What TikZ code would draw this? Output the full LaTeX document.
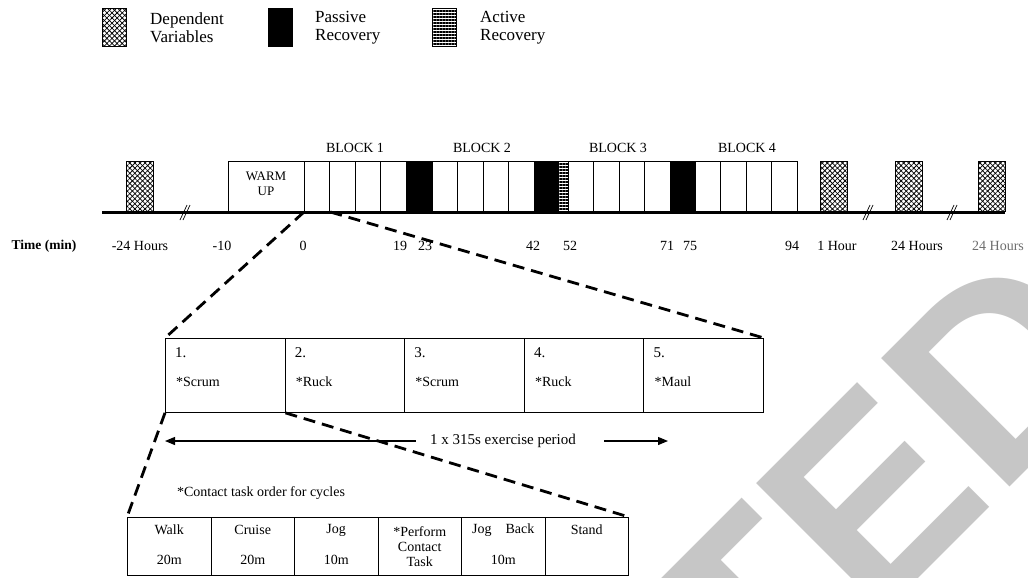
\documentclass[tikz,border=0pt]{standalone}
\usepackage{fontspec}
\setmainfont{Liberation Serif}
\newfontfamily\wmfont{Liberation Sans}
\usetikzlibrary{patterns,patterns.meta,arrows.meta,calc}
\definecolor{wmgray}{RGB}{160,160,160}
\definecolor{fadetext}{RGB}{110,110,110}
\tikzset{
  box/.style={draw, line width=0.9pt, inner sep=0pt, minimum height=50pt, anchor=south west},
  wcell/.style={box, minimum width=25.4pt},
  hatch/.style={pattern={Lines[angle=45,distance=3.6pt,line width=0.75pt]},
                postaction={pattern={Lines[angle=-45,distance=3.6pt,line width=0.75pt]}}},
  dvbox/.style={box, minimum width=27pt, hatch},
  pasbox/.style={box, fill=black},
  actbox/.style={box, pattern={Lines[angle=0,distance=3pt,line width=1.1pt]}},
  legbox/.style={draw, line width=0.9pt, inner sep=0pt, minimum width=24pt, minimum height=38pt, anchor=north west},
  legtext/.style={anchor=west, align=left, inner sep=0pt, font=\fontsize{17}{18}\selectfont},
  tl/.style={inner sep=0pt, font=\fontsize{14}{16}\selectfont},
  blk/.style={inner sep=0pt, font=\fontsize{14}{16}\selectfont},
  mcell/.style={draw, line width=0.9pt, inner sep=0pt, minimum width=119.6pt, minimum height=74pt, anchor=north west},
  bcell/.style={draw, line width=0.9pt, inner sep=0pt, minimum width=83.5pt, minimum height=58pt, anchor=north west},
  txt/.style={inner sep=0pt, font=\fontsize{14}{15}\selectfont},
  num/.style={inner sep=0pt, anchor=west, font=\fontsize{15}{16}\selectfont},
  zoomline/.style={line width=2.8pt, dash pattern=on 12pt off 7pt},
  brk/.style={line width=0.7pt},
  arr/.style={line width=1.2pt, -{Triangle[length=10pt,width=8pt]}},
  wm/.style={inner sep=0pt, anchor=base west, rotate=45, text=wmgray, text opacity=0.6,
             font=\wmfont\bfseries\fontsize{264}{264}\selectfont}
}
\begin{document}
\begin{tikzpicture}[x=1pt,y=-1pt]
\useasboundingbox (0,0) rectangle (1028,578);
% legend
\node[legbox, hatch] (lg1) at (102,8) {};
\node[legtext] (lt1) at (150,28) {Dependent\\Variables};
\node[legbox, fill=black] (lg2) at (268,8) {};
\node[legtext] (lt2) at (315,28) {Passive\\Recovery};
\node[legbox, pattern={Lines[angle=0,distance=3pt,line width=1.1pt]}] (lg3) at (432,8) {};
\node[legtext] (lt3) at (480,28) {Active\\Recovery};

% timeline boxes
\node[dvbox] (dv0) at (126,212) {};
\node[box, minimum width=76pt] (warm) at (228,212) {};
\node[blk, align=center, font=\fontsize{13}{15}\selectfont] (warmtxt) at (266,184) {WARM\\UP};
\foreach \b/\x in {1/304,2/432,3/568,4/695}
  \foreach \c in {1,...,4}
    \node[wcell] (b\b c\c) at ({\x+25.4*(\c-1)},212) {};
\node[pasbox, minimum width=26.4pt] (p1) at (405.6,212) {};
\node[pasbox, minimum width=24.4pt] (p2) at (533.6,212) {};
\node[actbox, minimum width=10pt] (a1) at (558,212) {};
\node[pasbox, minimum width=25.4pt] (p3) at (669.6,212) {};
\node[dvbox] (dv1) at (820,212) {};
\node[dvbox] (dv2) at (895,212) {};
\node[dvbox] (dv3) at (978,212) {};

% block labels
\node[blk] (bl1) at (355,148) {BLOCK 1};
\node[blk] (bl2) at (482,148) {BLOCK 2};
\node[blk] (bl3) at (618,148) {BLOCK 3};
\node[blk] (bl4) at (747,148) {BLOCK 4};

% axis
\coordinate (axL) at (102,212);
\coordinate (axR) at (1005,212);
\draw[line width=3pt] (axL) -- (axR);
\foreach \i/\x in {1/185,2/868,3/952} {
  \coordinate (br\i) at (\x,212);
  \draw[brk] ($(br\i)+(-5,8)$) -- ++(7,-15);
  \draw[brk] ($(br\i)+(-2,8)$) -- ++(7,-15);
}

% time labels
\node[tl, font=\bfseries\fontsize{13.5}{16}\selectfont] (tmin) at (44,246) {Time (min)};
\foreach \x/\t [count=\i] in {140/-24 Hours,222/-10,303/0,400/19,425/23,533/42,570/52,667/71,690/75,792/94,837/1 Hour,917/24 Hours}
  \node[tl] (t\i) at (\x,246) {\t};
\node[tl, text=fadetext] (t13) at (998,246) {24 Hours};

% middle table
\foreach \i/\n/\t in {1/1./*Scrum,2/2./*Ruck,3/3./*Scrum,4/4./*Ruck,5/5./*Maul} {
  \node[mcell] (m\i) at ({165+119.6*(\i-1)},338) {};
  \node[num] (mn\i) at ($(m\i.north west)+(10,15)$) {\n};
  \node[txt, anchor=west] (mt\i) at ($(m\i.north west)+(11,44)$) {\t};
}

% exercise period arrow
\node[txt, font=\fontsize{15}{16}\selectfont] (per) at (503,441) {1 x 315s exercise period};
\coordinate (arrL) at (165,441);
\coordinate (arrR) at (668,441);
\draw[arr] ($(per.west)+(-14,0)$) -- (arrL);
\draw[arr] ($(per.east)+(28,0)$) -- (arrR);
\node[txt] (note) at (261,493) {*Contact task order for cycles};

% bottom table
\foreach \i in {1,...,6}
  \node[bcell] (c\i) at ({127+83.5*(\i-1)},517) {};
\node[txt] (c1a) at ($(c1.north)+(0,13)$) {Walk};
\node[txt] (c1b) at ($(c1.north)+(0,43)$) {20m};
\node[txt] (c2a) at ($(c2.north)+(0,13)$) {Cruise};
\node[txt] (c2b) at ($(c2.north)+(0,43)$) {20m};
\node[txt] (c3a) at ($(c3.north)+(0,13)$) {Jog};
\node[txt] (c3b) at ($(c3.north)+(0,43)$) {10m};
\node[txt, align=center] (c4a) at ($(c4.north)+(0,30)$) {*Perform\\Contact\\Task};
\node[txt] (c5a) at ($(c5.north)+(0,13)$) {Jog\hspace{1em}Back};
\node[txt] (c5b) at ($(c5.north)+(0,43)$) {10m};
\node[txt] (c6a) at ($(c6.north)+(0,13)$) {Stand};

% zoom lines
\draw[zoomline] (b1c1.south west) -- (m1.north west);
\draw[zoomline] (b1c1.south east) -- (m5.north east);
\draw[zoomline] (m1.south west) -- (c1.north west);
\draw[zoomline] (m1.south east) -- (c6.north east);

% watermark
\begin{scope}
\clip (0,0) rectangle (1028,578);
\node[wm] (wmark) at (105,1392) {ACCEPTED};
\end{scope}
\end{tikzpicture}
\end{document}
